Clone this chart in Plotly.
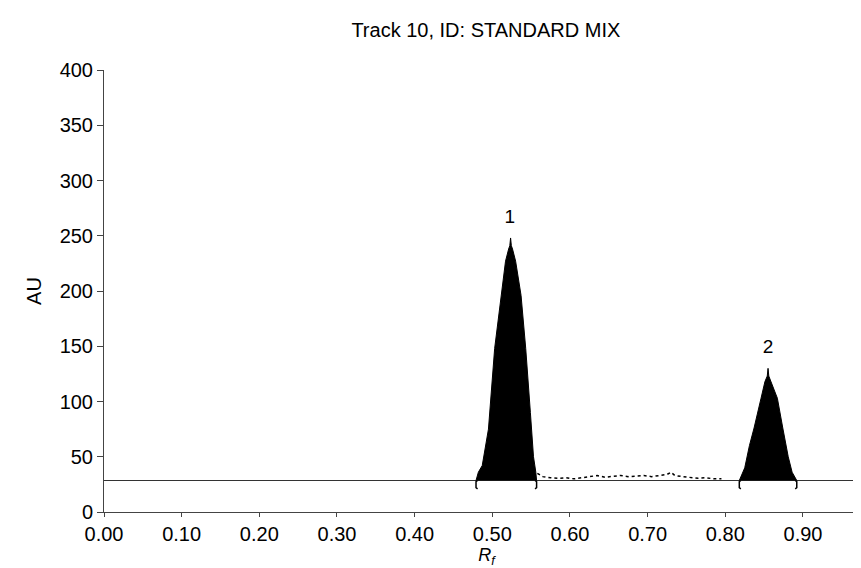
import plotly.graph_objects as go

# ---- data ----
baseline_level = 28.5
x_range_max = 0.985

peak1_x = [0.479, 0.482, 0.487, 0.495, 0.503, 0.511, 0.517, 0.521, 0.5225, 0.5235, 0.5245, 0.526, 0.530, 0.537, 0.543, 0.549, 0.553, 0.556, 0.557]
peak1_y = [28.5, 36, 42, 75, 148, 196, 227, 238, 241, 248, 241, 238, 227, 196, 148, 90, 50, 36, 28.5]

peak2_x = [0.818, 0.821, 0.825, 0.831, 0.837, 0.846, 0.851, 0.854, 0.855, 0.856, 0.859, 0.867, 0.874, 0.881, 0.886, 0.890, 0.892]
peak2_y = [28.5, 34, 40, 60, 76, 103, 118, 123, 130, 123, 118, 103, 76, 50, 36, 31, 28.5]

noise_x = [0.558, 0.565, 0.575, 0.585, 0.595, 0.605, 0.615, 0.625, 0.635, 0.645, 0.655, 0.665, 0.675,
           0.685, 0.695, 0.705, 0.715, 0.725, 0.730, 0.735, 0.745, 0.755, 0.765, 0.775, 0.785, 0.795]
noise_y = [35, 32, 31, 30.5, 31, 30, 31, 32, 33, 31.5, 32, 33, 32,
           32.5, 33, 32, 33, 34, 36, 33, 32, 31, 30.5, 31, 30, 30]

peak_start = [0.479, 0.818]
peak_end = [0.557, 0.892]
peak_labels = ["1", "2"]
peak_label_x = [0.5225, 0.855]
peak_label_y = [266, 148]
bracket_bottom = 21

x_tick_vals = [0.0, 0.1, 0.2, 0.3, 0.4, 0.5, 0.6, 0.7, 0.8, 0.9]
x_tick_text = ["0.00", "0.10", "0.20", "0.30", "0.40", "0.50", "0.60", "0.70", "0.80", "0.90"]
y_tick_vals = [0, 50, 100, 150, 200, 250, 300, 350, 400]

FONT = "Liberation Sans, Arial, sans-serif"

fig = go.Figure()

# baseline
fig.add_trace(go.Scatter(x=[0, x_range_max], y=[baseline_level, baseline_level], mode="lines",
                         line=dict(color="#333", width=1), hoverinfo="skip"))

# noise between peaks
fig.add_trace(go.Scatter(x=noise_x, y=noise_y, mode="lines",
                         line=dict(color="black", width=1.5, dash="dot"), hoverinfo="skip"))

# peaks
for px, py in [(peak1_x, peak1_y), (peak2_x, peak2_y)]:
    fig.add_trace(go.Scatter(x=px, y=py, mode="lines", fill="toself", fillcolor="black",
                             line=dict(color="black", width=1), hoverinfo="skip"))

# brackets at peak boundaries
bx, by = [], []
for s, e in zip(peak_start, peak_end):
    bx += [s + 0.002, s, s, s + 0.002, None]
    by += [baseline_level, baseline_level - 1, bracket_bottom + 1, bracket_bottom, None]
    bx += [e - 0.002, e, e, e - 0.002, None]
    by += [baseline_level, baseline_level - 1, bracket_bottom + 1, bracket_bottom, None]
fig.add_trace(go.Scatter(x=bx, y=by, mode="lines", line=dict(color="black", width=1.5),
                         hoverinfo="skip"))

# peak labels
fig.add_trace(go.Scatter(x=peak_label_x, y=peak_label_y, mode="text", text=peak_labels,
                         textfont=dict(family=FONT, size=19, color="black"), hoverinfo="skip"))

fig.update_layout(
    width=861, height=568,
    margin=dict(l=96, r=0, t=62, b=64),
    plot_bgcolor="white", paper_bgcolor="white",
    showlegend=False,
    font=dict(family=FONT, size=19, color="black"),
    title=dict(text="Track 10, ID: STANDARD MIX", x=0.555, xanchor="center",
               y=0.961, yanchor="middle",
               font=dict(family=FONT, size=20, color="black")),
)
fig.update_xaxes(range=[0, x_range_max], tickvals=x_tick_vals, ticktext=x_tick_text,
                 showgrid=False, zeroline=False, showline=True, linecolor="#444", linewidth=1,
                 ticks="outside", ticklen=4, tickcolor="#444",
                 tickfont=dict(family=FONT, size=20),
                 title=dict(text="<i>R</i><sub><i>f</i></sub>", font=dict(family=FONT, size=18), standoff=0))
fig.update_yaxes(range=[0, 400], tickvals=y_tick_vals,
                 showgrid=False, zeroline=False, showline=True, linecolor="#444", linewidth=1,
                 ticks="outside", ticklen=6, tickcolor="#444",
                 tickfont=dict(family=FONT, size=20),
                 title=dict(text="AU", font=dict(family=FONT, size=20), standoff=12))

fig.write_html("out.html")
